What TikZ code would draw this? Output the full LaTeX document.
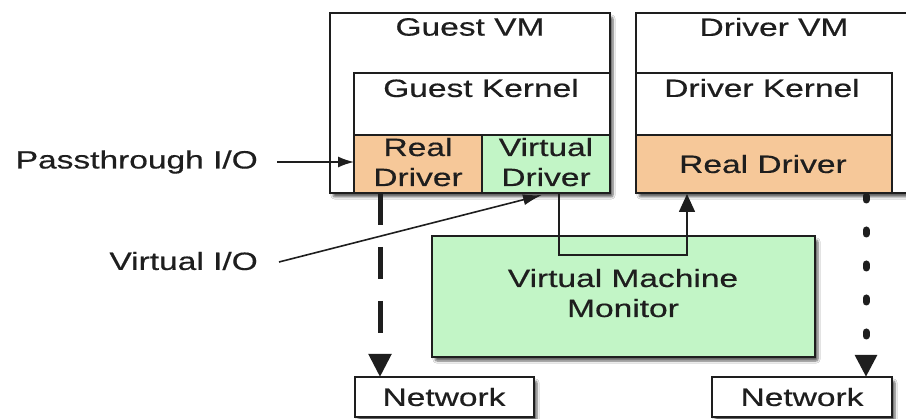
\documentclass[tikz,border=0pt]{standalone}
\usepackage{fontspec}
\setmainfont{Liberation Sans}
\newfontfamily\lblfont[UprightFeatures={FakeBold=0.4}]{Liberation Sans}
\usepackage{graphicx}
\usetikzlibrary{arrows.meta,shadows.blur}

\definecolor{ink}{HTML}{1E1E1E}
\definecolor{orangefill}{HTML}{F6C899}
\definecolor{greenfill}{HTML}{C2F5C6}

% wide sans labels
\newcommand{\wtxt}[1]{\scalebox{1.34}[1]{#1}}
\newcommand{\twoline}[2]{\wtxt{\begin{tabular}{@{}c@{}}#1\\#2\end{tabular}}}

\begin{document}
\begin{tikzpicture}[x=1pt,y=-1pt,
  outerbox/.style={draw=ink, line width=1.8pt, fill=white, anchor=north west,
    inner sep=0pt, outer sep=0pt,
    blur shadow={shadow xshift=3pt, shadow yshift=-4pt, shadow blur steps=6,
      shadow blur extra rounding=2pt, shadow opacity=60}},
  innerbox/.style={draw=ink, line width=1.5pt, anchor=north west,
    inner sep=0pt, outer sep=0pt},
  lbl/.style={text=ink, font=\lblfont\fontsize{25}{30}\selectfont, inner sep=0pt},
  wire/.style={draw=ink, line width=1.6pt},
]
\useasboundingbox (0,0) rectangle (906,419);
\clip (0,0) rectangle (906,419);
\fill[white] (0,0) rectangle (906,419);

% guest VM and its kernel / drivers
\node[outerbox, minimum width=280pt, minimum height=180pt] (guestvm) at (330,13) {};
\node[innerbox, fill=white, minimum width=256pt, minimum height=120pt] (guestkernel) at (354,73) {};
\node[innerbox, fill=orangefill, minimum width=128pt, minimum height=58pt] (guestreal) at (354,135) {};
\node[innerbox, fill=greenfill, minimum width=128pt, minimum height=58pt] (guestvirt) at (482,135) {};
\node[lbl] (guestvmlbl) at (470,27) {\wtxt{Guest VM}};
\node[lbl] (guestkernellbl) at (481,88) {\wtxt{Guest Kernel}};
\node[lbl] (guestreallbl) at (418,165) {\twoline{Real}{Driver}};
\node[lbl] (guestvirtlbl) at (546,165) {\twoline{Virtual}{Driver}};

% driver VM
\node[outerbox, minimum width=276pt, minimum height=180pt] (drivervm) at (636,13) {};
\node[innerbox, fill=white, minimum width=256pt, minimum height=120pt] (driverkernel) at (636,73) {};
\node[innerbox, fill=orangefill, minimum width=256pt, minimum height=58pt] (driverreal) at (636,135) {};
\node[lbl] (drivervmlbl) at (774,27) {\wtxt{Driver VM}};
\node[lbl] (driverkernellbl) at (762,88) {\wtxt{Driver Kernel}};
\node[lbl] (driverreallbl) at (763,164) {\wtxt{Real Driver}};

% monitor
\node[outerbox, fill=greenfill, minimum width=383pt, minimum height=121pt] (vmm) at (432,236) {};
\node[lbl] (vmmlbl) at (623,296) {\twoline{Virtual Machine}{Monitor}};

% networks
\node[outerbox, minimum width=179pt, minimum height=40pt] (netleft) at (355,377) {};
\node[outerbox, minimum width=180pt, minimum height=40pt] (netright) at (712,377) {};
\node[lbl] (netleftlbl) at (444,397) {\wtxt{Network}};
\node[lbl] (netrightlbl) at (802,397) {\wtxt{Network}};

% side labels
\node[lbl, anchor=east] (passlbl) at (258,162) {\wtxt{Passthrough I/O}};
\node[lbl, anchor=east] (virtlbl) at (258,261) {\wtxt{Virtual I/O}};
\coordinate (passstart) at (277,162);
\coordinate (virtstart) at (279,262);

% connectors
\draw[wire, -{Latex[length=16pt,width=11pt]}] (passstart) -- (guestreal.west |- passstart);
\draw[wire, -{Latex[length=19pt,width=11pt]}] (virtstart) -- (542,195);
\draw[wire, -{Triangle[length=18pt,width=16pt]}]
  (559,193) -- (559,255) -- (687,255) -- (687,194);
\draw[draw=ink, line width=5pt, dash pattern=on 32pt off 22pt,
  -{Triangle[length=23pt,width=22pt]}] (380,193) -- (380,377);
\draw[draw=ink, line width=7pt, line cap=round, dash pattern=on 4pt off 30pt,
  -{Triangle[length=22pt,width=21pt]}] (866,196) -- (866,377);
\end{tikzpicture}
\end{document}
